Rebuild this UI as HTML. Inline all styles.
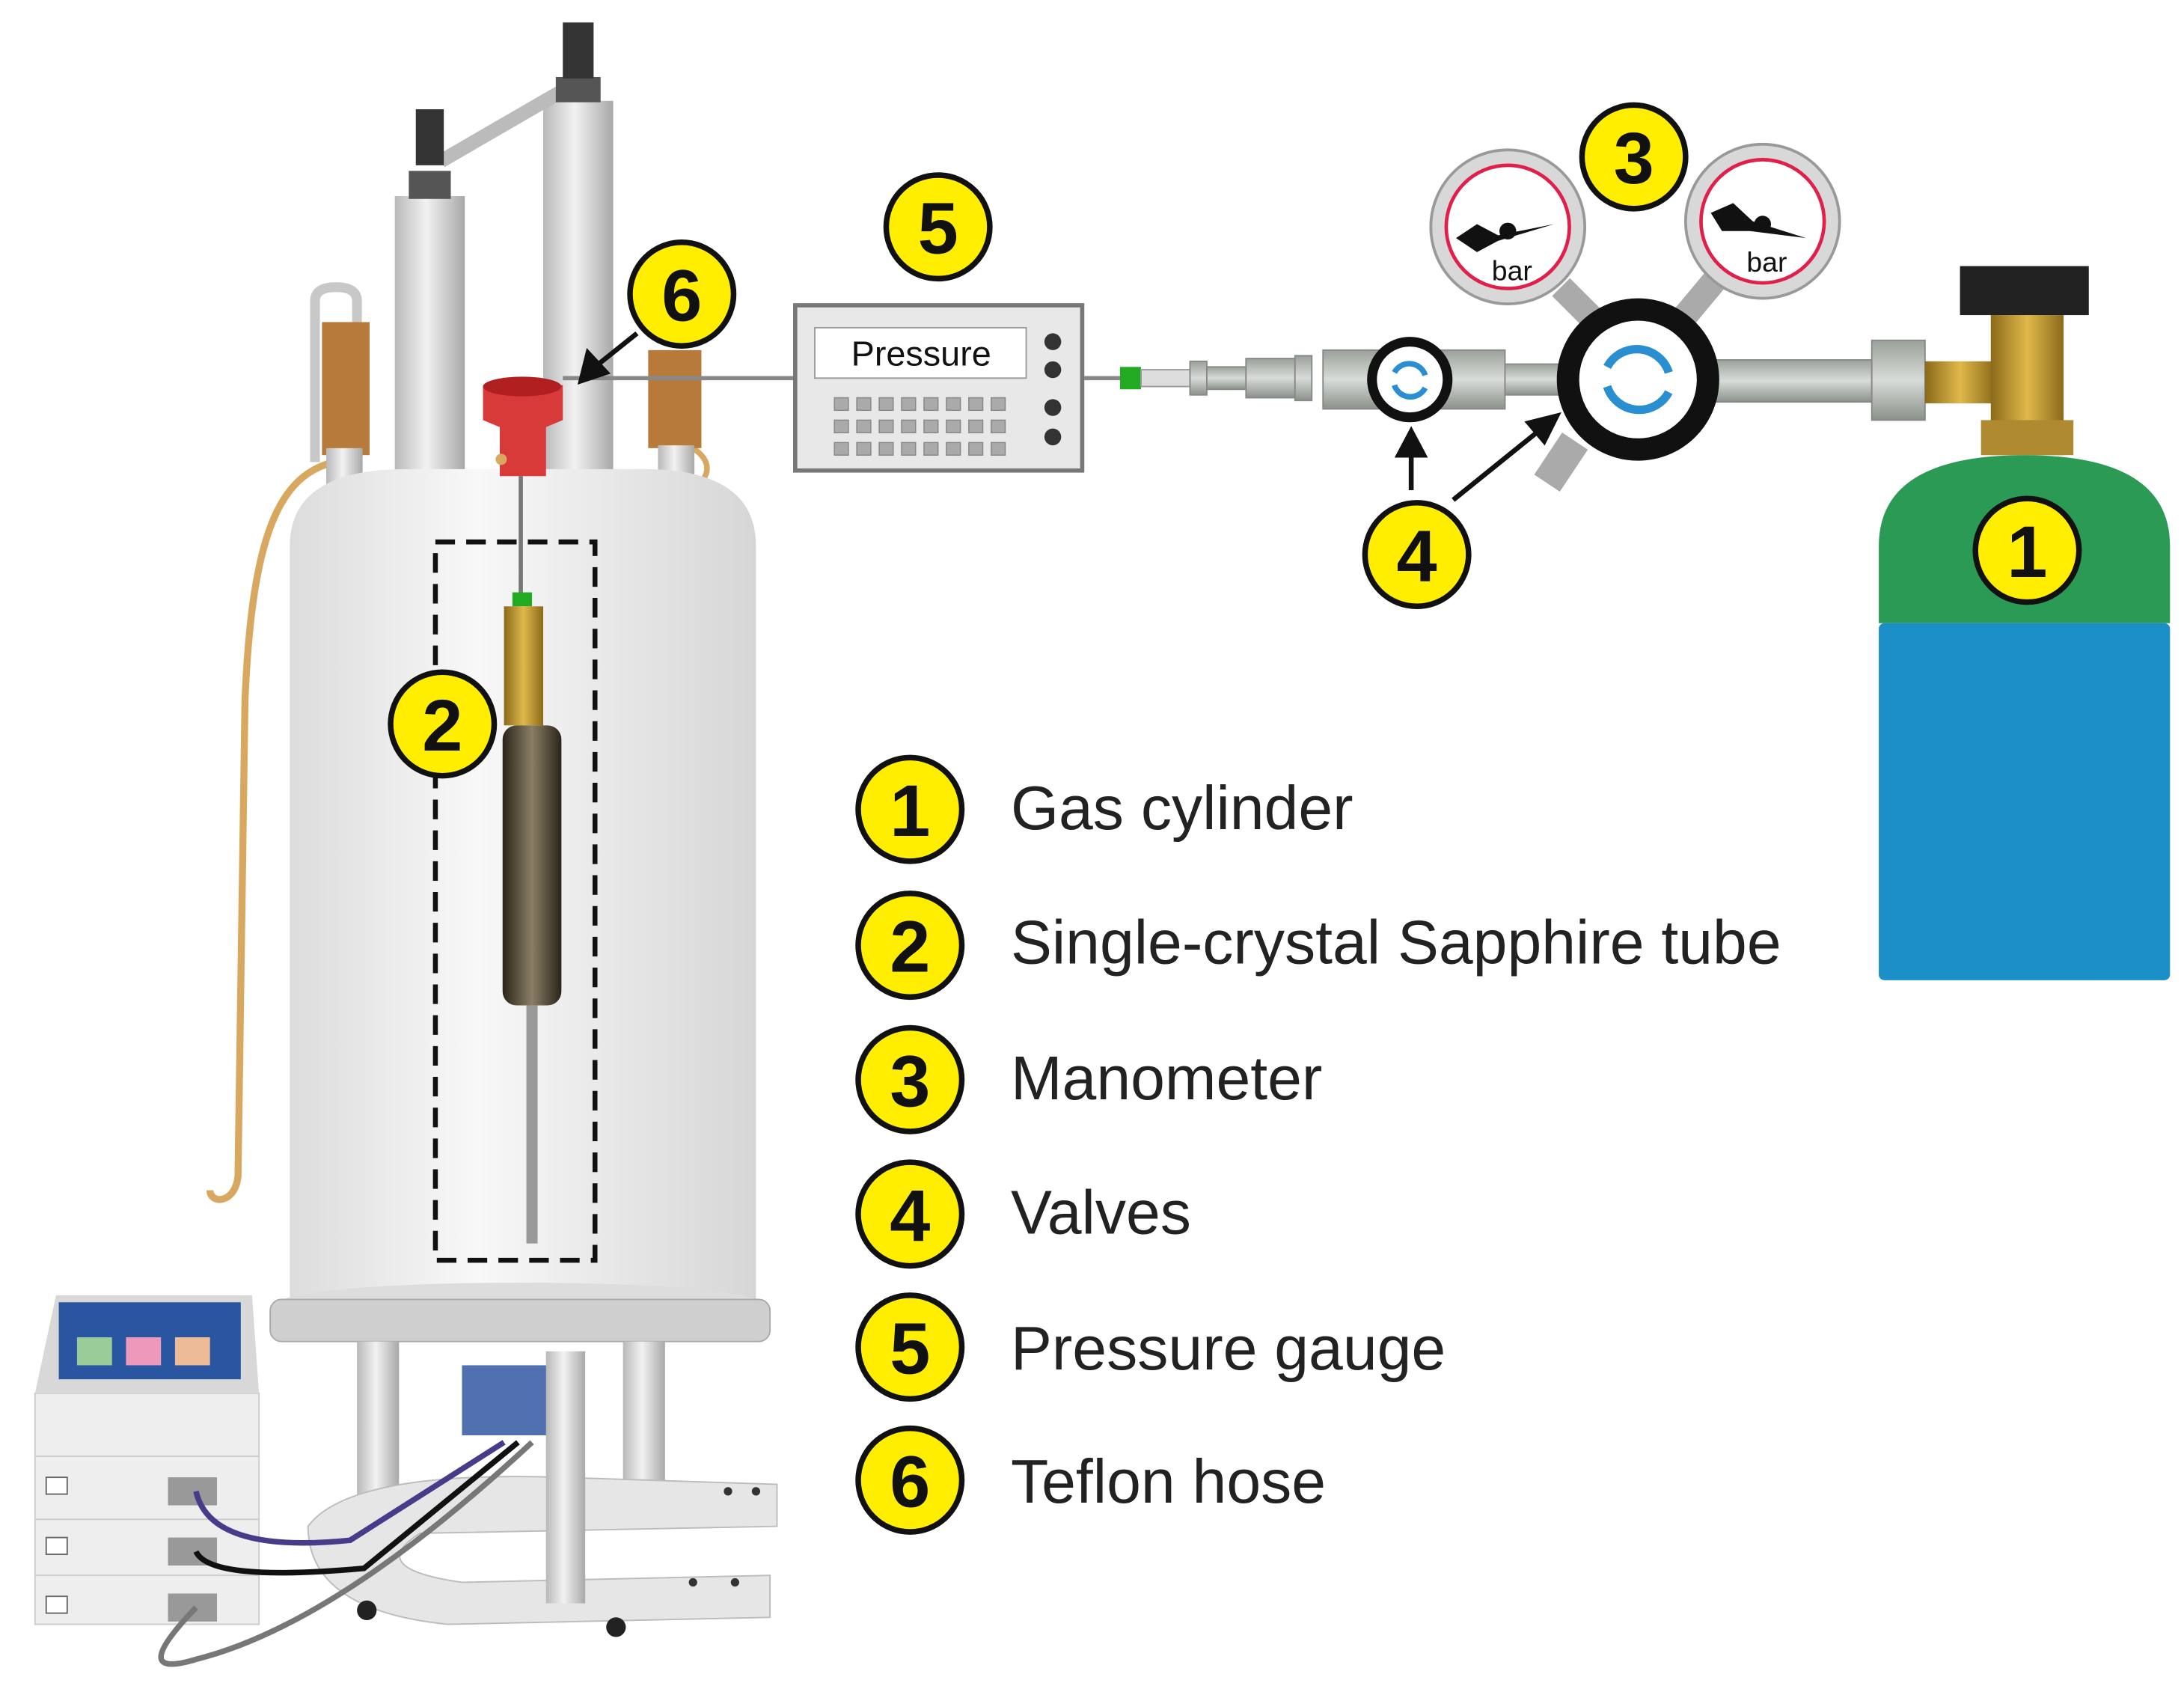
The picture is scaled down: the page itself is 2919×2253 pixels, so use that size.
<!DOCTYPE html>
<html><head><meta charset="utf-8"><style>
html,body{margin:0;padding:0;background:#fff;}
svg{display:block;}
text{font-family:"Liberation Sans",sans-serif;}
</style></head><body>
<svg width="2919" height="2253" viewBox="0 0 1560 1204" xmlns="http://www.w3.org/2000/svg">
<defs>
<linearGradient id="col" x1="0" x2="1"><stop offset="0" stop-color="#b8b8b8"/><stop offset="0.45" stop-color="#f2f2f2"/><stop offset="1" stop-color="#a8a8a8"/></linearGradient>
<linearGradient id="body" x1="0" x2="1"><stop offset="0" stop-color="#dcdcdc"/><stop offset="0.4" stop-color="#f8f8f8"/><stop offset="1" stop-color="#d6d6d6"/></linearGradient>
<linearGradient id="brass" x1="0" x2="1"><stop offset="0" stop-color="#8a6a1a"/><stop offset="0.5" stop-color="#e0b84a"/><stop offset="1" stop-color="#8a6a1a"/></linearGradient>
<linearGradient id="dark" x1="0" x2="1"><stop offset="0" stop-color="#2a2418"/><stop offset="0.5" stop-color="#8a7e66"/><stop offset="1" stop-color="#2a2418"/></linearGradient>
<linearGradient id="pipe" x1="0" y1="0" x2="0" y2="1"><stop offset="0" stop-color="#9aa09a"/><stop offset="0.5" stop-color="#d8dcd8"/><stop offset="1" stop-color="#8a908a"/></linearGradient>
</defs>

<path d="M238,330 C200,340 180,380 175,500 L170,840 C168,860 150,860 150,850" fill="none" stroke="#d9a860" stroke-width="5"/>
<path d="M495,320 C510,330 505,340 500,345" fill="none" stroke="#d9a860" stroke-width="4"/>
<path d="M225,330 L225,215 Q225,205 240,205 Q255,205 255,215 L255,330" fill="none" stroke="#c8c8c8" stroke-width="7"/>
<rect x="230" y="230" width="34" height="95" fill="#b87a3a"/>
<rect x="233" y="320" width="26" height="60" fill="url(#col)"/>
<rect x="463" y="250" width="38" height="70" fill="#b87a3a"/>
<rect x="470" y="318" width="26" height="45" fill="url(#col)"/>

<rect x="282" y="140" width="50" height="245" fill="url(#col)"/>
<rect x="388" y="72" width="50" height="270" fill="url(#col)"/>
<path d="M315,115 L410,60" stroke="#bbb" stroke-width="10"/>
<rect x="292" y="122" width="30" height="20" fill="#555"/>
<rect x="297" y="78" width="20" height="40" fill="#333"/>
<rect x="397" y="55" width="32" height="18" fill="#555"/>
<rect x="402" y="16" width="22" height="40" fill="#333"/>

<path d="M207,935 L207,390 Q207,335 290,335 L460,335 Q540,335 540,390 L540,935 Z" fill="url(#body)"/>
<ellipse cx="371" cy="930" rx="170" ry="14" fill="#ddd"/>
<rect x="193" y="928" width="357" height="30" rx="8" fill="#cfcfcf" stroke="#aaa"/>
<rect x="255" y="958" width="30" height="140" fill="url(#col)"/>
<rect x="445" y="958" width="30" height="110" fill="url(#col)"/>
<rect x="330" y="975" width="70" height="50" fill="#5070b0"/>
<path d="M220,1090 Q250,1050 400,1055 L555,1060 L555,1090 L300,1095 Q260,1120 330,1130 L550,1125 L550,1155 L320,1160 Q220,1150 220,1090Z" fill="#e6e6e6" stroke="#bbb"/>
<rect x="390" y="965" width="28" height="180" fill="url(#col)"/>
<circle cx="262" cy="1150" r="7" fill="#222"/><circle cx="440" cy="1162" r="7" fill="#222"/>
<circle cx="520" cy="1065" r="3" fill="#333"/><circle cx="540" cy="1065" r="3" fill="#333"/>
<circle cx="495" cy="1130" r="3" fill="#333"/><circle cx="525" cy="1130" r="3" fill="#333"/>

<rect x="25" y="995" width="160" height="165" fill="#eee" stroke="#ccc"/>
<line x1="25" y1="1040" x2="185" y2="1040" stroke="#ccc"/><line x1="25" y1="1085" x2="185" y2="1085" stroke="#ccc"/><line x1="25" y1="1125" x2="185" y2="1125" stroke="#ccc"/>
<path d="M25,995 L40,925 L180,925 L185,995Z" fill="#d8d8d8"/>
<rect x="42" y="930" width="130" height="55" fill="#2a55a0"/>
<rect x="55" y="955" width="25" height="20" fill="#9c9"/><rect x="90" y="955" width="25" height="20" fill="#e9b"/><rect x="125" y="955" width="25" height="20" fill="#eb9"/>
<rect x="33" y="1055" width="15" height="12" fill="#fff" stroke="#666"/><rect x="33" y="1098" width="15" height="12" fill="#fff" stroke="#666"/><rect x="33" y="1140" width="15" height="12" fill="#fff" stroke="#666"/>
<rect x="120" y="1055" width="35" height="20" fill="#999"/><rect x="120" y="1098" width="35" height="20" fill="#999"/><rect x="120" y="1138" width="35" height="20" fill="#999"/>
<path d="M140,1065 Q150,1110 250,1100 L360,1030" fill="none" stroke="#4a3a8a" stroke-width="4"/>
<path d="M140,1108 Q150,1130 260,1120 L370,1030" fill="none" stroke="#111" stroke-width="4"/>
<path d="M140,1148 Q90,1200 140,1185 Q240,1160 380,1030" fill="none" stroke="#777" stroke-width="4"/>

<rect x="311" y="387" width="114" height="513" fill="none" stroke="#111" stroke-width="3.5" stroke-dasharray="14,8"/>
<line x1="372" y1="340" x2="372" y2="425" stroke="#777" stroke-width="3"/>
<rect x="366" y="423" width="14" height="10" fill="#2a2"/>
<rect x="360" y="433" width="28" height="85" fill="url(#brass)"/>
<rect x="359" y="518" width="42" height="200" rx="10" fill="url(#dark)"/>
<rect x="376" y="718" width="8" height="170" fill="#999"/>
<path d="M345,275 L402,275 L402,300 L390,305 L390,340 L357,340 L357,305 L345,300Z" fill="#d83a3a"/>
<ellipse cx="373" cy="276" rx="28" ry="7" fill="#b02020"/>
<circle cx="358" cy="328" r="4" fill="#d9a860"/>

<line x1="402" y1="270" x2="568" y2="270" stroke="#888" stroke-width="3"/>
<line x1="773" y1="270" x2="805" y2="270" stroke="#888" stroke-width="3"/>

<rect x="568" y="218" width="205" height="118" fill="#e8e8e8" stroke="#777" stroke-width="3"/>
<rect x="582" y="234" width="151" height="36" fill="#fff" stroke="#999"/>
<text x="658" y="261" font-size="25" text-anchor="middle" fill="#111">Pressure</text>
<g fill="#aaa" stroke="#888" stroke-width="0.8">
<rect x="596" y="284" width="10" height="9"/><rect x="612" y="284" width="10" height="9"/><rect x="628" y="284" width="10" height="9"/><rect x="644" y="284" width="10" height="9"/><rect x="660" y="284" width="10" height="9"/><rect x="676" y="284" width="10" height="9"/><rect x="692" y="284" width="10" height="9"/><rect x="708" y="284" width="10" height="9"/>
<rect x="596" y="300" width="10" height="9"/><rect x="612" y="300" width="10" height="9"/><rect x="628" y="300" width="10" height="9"/><rect x="644" y="300" width="10" height="9"/><rect x="660" y="300" width="10" height="9"/><rect x="676" y="300" width="10" height="9"/><rect x="692" y="300" width="10" height="9"/><rect x="708" y="300" width="10" height="9"/>
<rect x="596" y="316" width="10" height="9"/><rect x="612" y="316" width="10" height="9"/><rect x="628" y="316" width="10" height="9"/><rect x="644" y="316" width="10" height="9"/><rect x="660" y="316" width="10" height="9"/><rect x="676" y="316" width="10" height="9"/><rect x="692" y="316" width="10" height="9"/><rect x="708" y="316" width="10" height="9"/>
</g>
<g fill="#333"><circle cx="752" cy="244" r="6"/><circle cx="752" cy="264" r="6"/><circle cx="752" cy="291" r="6"/><circle cx="752" cy="312" r="6"/></g>

<rect x="800" y="262" width="15" height="16" fill="#2a2"/>
<rect x="815" y="264" width="35" height="12" fill="#ddd" stroke="#999"/>
<rect x="850" y="258" width="12" height="24" fill="url(#pipe)" stroke="#888"/>
<rect x="862" y="262" width="28" height="16" fill="url(#pipe)" stroke="#888"/>
<rect x="890" y="256" width="35" height="28" fill="url(#pipe)" stroke="#888"/>
<rect x="925" y="254" width="12" height="32" fill="url(#pipe)" stroke="#888"/>
<rect x="945" y="250" width="130" height="42" fill="url(#pipe)" stroke="#888"/>
<circle cx="1007" cy="271" r="27" fill="#fff" stroke="#111" stroke-width="7"/>
<path d="M996,266 A12,12 0 0 1 1018,268" fill="none" stroke="#2a8fd0" stroke-width="4"/>
<path d="M1018,277 A12,12 0 0 1 996,275" fill="none" stroke="#2a8fd0" stroke-width="4"/>
<rect x="1075" y="260" width="50" height="22" fill="url(#pipe)" stroke="#888"/>
<path d="M1115,205 L1140,230" stroke="#aaa" stroke-width="18"/>
<path d="M1225,200 L1200,230" stroke="#aaa" stroke-width="18"/>
<path d="M1125,315 L1105,345" stroke="#aaa" stroke-width="22"/>
<circle cx="1077" cy="162" r="55" fill="#d8d8d8" stroke="#999" stroke-width="2"/>
<circle cx="1077" cy="162" r="44" fill="#fff" stroke="#e0204a" stroke-width="2.5"/>
<path d="M1040,170 L1055,160 L1070,168 L1110,160 L1070,172 L1055,180Z" fill="#111"/>
<circle cx="1077" cy="165" r="6" fill="#111"/>
<text x="1080" y="200" font-size="20" text-anchor="middle" fill="#111">bar</text>
<circle cx="1259" cy="158" r="55" fill="#d8d8d8" stroke="#999" stroke-width="2"/>
<circle cx="1259" cy="158" r="44" fill="#fff" stroke="#e0204a" stroke-width="2.5"/>
<path d="M1222,152 L1238,145 L1252,158 L1290,170 L1250,165 L1230,165Z" fill="#111"/>
<circle cx="1259" cy="160" r="6" fill="#111"/>
<text x="1262" y="194" font-size="20" text-anchor="middle" fill="#111">bar</text>
<rect x="1220" y="257" width="117" height="30" fill="url(#pipe)" stroke="#888"/>
<circle cx="1170" cy="271" r="50" fill="#fff" stroke="#111" stroke-width="16"/>
<path d="M1148,262 A24,24 0 0 1 1192,266" fill="none" stroke="#2a8fd0" stroke-width="6"/>
<path d="M1192,280 A24,24 0 0 1 1148,276" fill="none" stroke="#2a8fd0" stroke-width="6"/>
<rect x="1337" y="243" width="38" height="57" fill="url(#pipe)" stroke="#888"/>
<rect x="1375" y="258" width="50" height="30" fill="url(#brass)"/>
<rect x="1422" y="225" width="52" height="100" fill="url(#brass)"/>
<rect x="1415" y="300" width="66" height="25" fill="#b08a30"/>
<rect x="1400" y="190" width="92" height="35" fill="#222"/>

<path d="M1342,445 L1342,390 Q1342,325 1446,325 Q1550,325 1550,390 L1550,445Z" fill="#2a9a55"/>
<rect x="1342" y="445" width="208" height="255" rx="4" fill="#1a8fc8"/>

<g stroke="#111" stroke-width="3.5" fill="#111">
<line x1="455" y1="238" x2="425" y2="262"/>
<path d="M415,272 L420,252 L433,266Z"/>
<line x1="1008" y1="350" x2="1008" y2="322"/>
<path d="M1008,308 L999,325 L1017,325Z"/>
<line x1="1038" y1="357" x2="1100" y2="307"/>
<path d="M1112,297 L1092,302 L1103,315Z"/>
</g>

<g stroke="#111" stroke-width="4" fill="#ffee00">
<circle cx="487" cy="210" r="37"/><circle cx="670" cy="162" r="37"/><circle cx="1167" cy="112" r="37"/>
<circle cx="1012" cy="396" r="37"/><circle cx="1448" cy="393" r="37"/><circle cx="316" cy="517" r="37"/>
<circle cx="650" cy="578" r="37"/><circle cx="650" cy="675" r="37"/><circle cx="650" cy="771" r="37"/>
<circle cx="650" cy="867" r="37"/><circle cx="650" cy="962" r="37"/><circle cx="650" cy="1057" r="37"/>
</g>
<g font-size="52" font-weight="bold" text-anchor="middle" fill="#111">
<text x="487" y="229">6</text><text x="670" y="181">5</text><text x="1167" y="131">3</text>
<text x="1012" y="415">4</text><text x="1448" y="412">1</text><text x="316" y="536">2</text>
<text x="650" y="597">1</text><text x="650" y="694">2</text><text x="650" y="790">3</text>
<text x="650" y="886">4</text><text x="650" y="981">5</text><text x="650" y="1076">6</text>
</g>
<g font-size="44" fill="#222">
<text x="722" y="592">Gas cylinder</text>
<text x="722" y="688">Single-crystal Sapphire tube</text>
<text x="722" y="785">Manometer</text>
<text x="722" y="881">Valves</text>
<text x="722" y="978">Pressure gauge</text>
<text x="722" y="1073">Teflon hose</text>
</g>
</svg>
</body></html>
